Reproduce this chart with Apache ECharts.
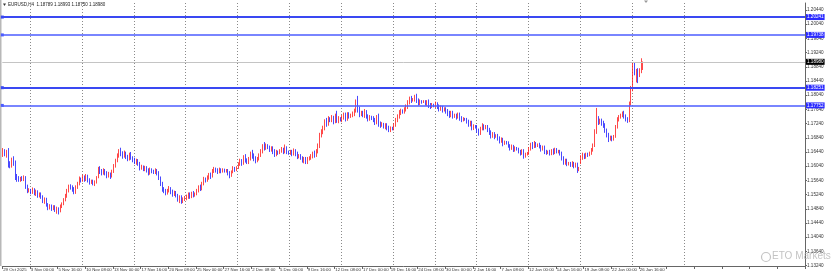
<!DOCTYPE html>
<html><head><meta charset="utf-8">
<script src="https://cdn.jsdelivr.net/npm/echarts@6/dist/echarts.min.js"></script>
<style>html,body{margin:0;padding:0;background:#fff}#c{width:831px;height:279px}</style>
</head><body><div id="c"></div>
<script>
const symbolTitle = 'EURUSD,H4';
const lastOHLC = ['1.18789', '1.18993', '1.18750', '1.18980'];
const firstSession = '2025-10-29 08:00';
const holidays = ['2025-12-25', '2026-01-01'];
const slotCount = 464;
const futureGridWeeks = 1;
const xTickLabels = ['29 Oct 2025','3 Nov 00:00','5 Nov 16:00','10 Nov 08:00','13 Nov 00:00','17 Nov 16:00','20 Nov 08:00','25 Nov 00:00','27 Nov 16:00','2 Dec 08:00','5 Dec 00:00','9 Dec 16:00','12 Dec 08:00','17 Dec 00:00','19 Dec 16:00','24 Dec 08:00','30 Dec 00:00','2 Jan 16:00','7 Jan 08:00','12 Jan 00:00','14 Jan 16:00','19 Jan 08:00','22 Jan 00:00','26 Jan 16:00'];
const yTickValues = [1.20440,1.20040,1.19640,1.19240,1.18840,1.18440,1.18040,1.17640,1.17240,1.16840,1.16440,1.16040,1.15640,1.15240,1.14840,1.14440,1.14040,1.13640,1.13240];
const levelValues = [1.20241, 1.19738, 1.18251, 1.17752];
const bidPrice = 1.18980;

// [open, close, low, high]
const candlesOctNov = [
[1.1640,1.1648,1.1630,1.1655],[1.1648,1.1640,1.1632,1.1652],[1.1640,1.1644,1.1628,1.1650],[1.1644,1.1610,1.1600,1.1655],
[1.1610,1.1605,1.1598,1.1618],[1.1605,1.1622,1.1600,1.1628],[1.1622,1.1615,1.1605,1.1632],[1.1615,1.1575,1.1565,1.1620],[1.1575,1.1570,1.1560,1.1582],[1.1570,1.1566,1.1560,1.1576],
[1.1566,1.1570,1.1560,1.1574],[1.1570,1.1568,1.1562,1.1576],[1.1568,1.1572,1.1562,1.1578],[1.1572,1.1545,1.1540,1.1576],[1.1545,1.1535,1.1528,1.1552],[1.1535,1.1537,1.1530,1.1542],
[1.1537,1.1530,1.1525,1.1540],[1.1530,1.1538,1.1526,1.1544],[1.1538,1.1528,1.1522,1.1542],[1.1528,1.1532,1.1520,1.1538],[1.1532,1.1520,1.1515,1.1536],[1.1520,1.1525,1.1516,1.1530],
[1.1525,1.1518,1.1512,1.1530],[1.1518,1.1505,1.1500,1.1522],[1.1505,1.1510,1.1498,1.1516],[1.1510,1.1495,1.1490,1.1515],[1.1495,1.1488,1.1480,1.1500],[1.1488,1.1492,1.1482,1.1497],
[1.1492,1.1485,1.1478,1.1496],[1.1485,1.1490,1.1480,1.1494],[1.1490,1.1480,1.1475,1.1494],[1.1480,1.1484,1.1470,1.1490],[1.1484,1.1478,1.1468,1.1488],[1.1478,1.1492,1.1474,1.1496],
[1.1492,1.1498,1.1486,1.1502],[1.1498,1.1510,1.1494,1.1514],[1.1510,1.1520,1.1505,1.1526],[1.1520,1.1535,1.1515,1.1540],[1.1535,1.1548,1.1530,1.1552],[1.1548,1.1545,1.1538,1.1553],
[1.1545,1.1540,1.1532,1.1550],[1.1540,1.1530,1.1525,1.1545],[1.1530,1.1545,1.1526,1.1550],[1.1545,1.1555,1.1540,1.1560],[1.1555,1.1568,1.1550,1.1575],[1.1568,1.1565,1.1558,1.1572],
[1.1565,1.1572,1.1560,1.1580],[1.1572,1.1568,1.1560,1.1578],[1.1568,1.1575,1.1562,1.1582],[1.1575,1.1565,1.1558,1.1580],[1.1565,1.1558,1.1552,1.1570],[1.1558,1.1562,1.1554,1.1566],
[1.1562,1.1555,1.1550,1.1566],[1.1555,1.1560,1.1548,1.1564],[1.1560,1.1572,1.1555,1.1576],[1.1572,1.1595,1.1570,1.1602],[1.1595,1.1590,1.1582,1.1604],[1.1590,1.1585,1.1578,1.1596],
[1.1585,1.1592,1.1580,1.1598],[1.1592,1.1585,1.1578,1.1596],[1.1585,1.1578,1.1570,1.1590],[1.1578,1.1582,1.1572,1.1588],[1.1582,1.1575,1.1568,1.1586],[1.1575,1.1590,1.1572,1.1594],
[1.1590,1.1605,1.1585,1.1610],[1.1605,1.1620,1.1600,1.1625],[1.1620,1.1632,1.1615,1.1640],[1.1632,1.1645,1.1628,1.1652],[1.1645,1.1640,1.1632,1.1656],[1.1640,1.1632,1.1625,1.1646],
[1.1632,1.1640,1.1628,1.1648],[1.1640,1.1630,1.1624,1.1645],[1.1630,1.1625,1.1618,1.1636],[1.1625,1.1638,1.1620,1.1642],[1.1638,1.1628,1.1622,1.1644],[1.1628,1.1622,1.1615,1.1632],
[1.1622,1.1615,1.1610,1.1628],[1.1615,1.1620,1.1608,1.1625],[1.1620,1.1612,1.1605,1.1624],[1.1612,1.1598,1.1592,1.1616],[1.1598,1.1602,1.1594,1.1608],[1.1602,1.1596,1.1590,1.1606],
[1.1596,1.1600,1.1590,1.1605],[1.1600,1.1592,1.1586,1.1604],[1.1592,1.1585,1.1578,1.1598],[1.1585,1.1595,1.1580,1.1600],[1.1595,1.1590,1.1584,1.1598],[1.1590,1.1588,1.1582,1.1594],
[1.1588,1.1592,1.1582,1.1598],[1.1592,1.1585,1.1578,1.1596],[1.1585,1.1570,1.1565,1.1590],[1.1570,1.1555,1.1548,1.1575],[1.1555,1.1540,1.1532,1.1560],[1.1540,1.1535,1.1528,1.1545],
[1.1535,1.1528,1.1522,1.1540],[1.1528,1.1535,1.1524,1.1540],[1.1535,1.1540,1.1530,1.1548],[1.1540,1.1532,1.1525,1.1545],[1.1532,1.1526,1.1518,1.1538],[1.1526,1.1530,1.1520,1.1535],
[1.1530,1.1522,1.1516,1.1534],[1.1522,1.1510,1.1504,1.1526],[1.1510,1.1518,1.1500,1.1522],[1.1518,1.1506,1.1498,1.1522],[1.1506,1.1512,1.1500,1.1516],[1.1512,1.1515,1.1506,1.1520],
[1.1515,1.1520,1.1508,1.1524],[1.1520,1.1525,1.1512,1.1530],[1.1525,1.1518,1.1512,1.1530],[1.1518,1.1528,1.1514,1.1532],[1.1528,1.1522,1.1516,1.1534],[1.1522,1.1526,1.1518,1.1530],
[1.1526,1.1535,1.1522,1.1540],[1.1535,1.1545,1.1530,1.1550],[1.1545,1.1540,1.1534,1.1552],[1.1540,1.1555,1.1536,1.1560],[1.1555,1.1568,1.1550,1.1574],[1.1568,1.1565,1.1558,1.1572],
[1.1565,1.1572,1.1560,1.1578],[1.1572,1.1580,1.1566,1.1585],[1.1580,1.1575,1.1568,1.1586],[1.1575,1.1590,1.1572,1.1596],[1.1590,1.1596,1.1585,1.1602],[1.1596,1.1592,1.1586,1.1600],
[1.1592,1.1588,1.1582,1.1598],[1.1588,1.1595,1.1584,1.1600],[1.1595,1.1590,1.1584,1.1598],[1.1590,1.1594,1.1586,1.1598],[1.1594,1.1590,1.1586,1.1597],[1.1590,1.1592,1.1586,1.1596],
[1.1592,1.1585,1.1578,1.1596],[1.1585,1.1578,1.1570,1.1590],[1.1578,1.1588,1.1574,1.1592],[1.1588,1.1598,1.1584,1.1604],[1.1598,1.1595,1.1588,1.1602],[1.1595,1.1600,1.1590,1.1604]
];
const candlesDec = [
[1.1600,1.1610,1.1596,1.1615],[1.1610,1.1618,1.1605,1.1625],[1.1618,1.1612,1.1605,1.1624],[1.1612,1.1628,1.1608,1.1635],[1.1628,1.1620,1.1614,1.1638],[1.1620,1.1615,1.1610,1.1626],
[1.1615,1.1625,1.1610,1.1630],[1.1625,1.1640,1.1620,1.1645],[1.1640,1.1632,1.1625,1.1650],[1.1632,1.1625,1.1618,1.1640],[1.1625,1.1620,1.1612,1.1632],[1.1620,1.1625,1.1615,1.1630],
[1.1625,1.1635,1.1620,1.1640],[1.1635,1.1645,1.1630,1.1652],[1.1645,1.1660,1.1640,1.1666],[1.1660,1.1655,1.1648,1.1672],[1.1655,1.1662,1.1650,1.1668],[1.1662,1.1658,1.1652,1.1666],
[1.1658,1.1650,1.1644,1.1662],[1.1650,1.1655,1.1645,1.1660],[1.1655,1.1645,1.1638,1.1660],[1.1645,1.1638,1.1630,1.1652],[1.1638,1.1645,1.1632,1.1650],[1.1645,1.1642,1.1636,1.1648],
[1.1642,1.1648,1.1638,1.1652],[1.1648,1.1652,1.1642,1.1658],[1.1652,1.1645,1.1638,1.1656],[1.1645,1.1655,1.1640,1.1665],[1.1655,1.1645,1.1638,1.1660],[1.1645,1.1642,1.1636,1.1648],
[1.1642,1.1645,1.1636,1.1650],[1.1645,1.1638,1.1632,1.1650],[1.1638,1.1648,1.1634,1.1654],[1.1648,1.1640,1.1632,1.1652],[1.1640,1.1630,1.1624,1.1645],[1.1630,1.1634,1.1626,1.1638],
[1.1634,1.1628,1.1622,1.1638],[1.1628,1.1620,1.1614,1.1632],[1.1620,1.1625,1.1612,1.1630],[1.1625,1.1615,1.1610,1.1630],[1.1615,1.1625,1.1610,1.1630],[1.1625,1.1628,1.1620,1.1632],
[1.1628,1.1632,1.1622,1.1638],[1.1632,1.1640,1.1626,1.1645],[1.1640,1.1635,1.1628,1.1648],[1.1635,1.1645,1.1630,1.1652],[1.1645,1.1660,1.1640,1.1668],[1.1660,1.1690,1.1655,1.1698],
[1.1690,1.1700,1.1685,1.1708],[1.1700,1.1712,1.1694,1.1718],[1.1712,1.1730,1.1705,1.1736],[1.1730,1.1722,1.1715,1.1740],[1.1722,1.1738,1.1718,1.1745],[1.1738,1.1735,1.1728,1.1742],
[1.1735,1.1740,1.1728,1.1748],[1.1740,1.1730,1.1722,1.1746],[1.1730,1.1745,1.1725,1.1752],[1.1745,1.1732,1.1726,1.1760],[1.1732,1.1738,1.1725,1.1745],[1.1738,1.1735,1.1730,1.1742],
[1.1735,1.1742,1.1728,1.1748],[1.1742,1.1748,1.1735,1.1755],[1.1748,1.1738,1.1730,1.1755],[1.1738,1.1750,1.1732,1.1756],[1.1750,1.1745,1.1738,1.1756],[1.1745,1.1748,1.1740,1.1752],
[1.1748,1.1752,1.1742,1.1758],[1.1752,1.1760,1.1745,1.1766],[1.1760,1.1785,1.1755,1.1792],[1.1785,1.1765,1.1755,1.1802],[1.1765,1.1750,1.1742,1.1772],[1.1750,1.1755,1.1745,1.1760],
[1.1755,1.1748,1.1742,1.1760],[1.1748,1.1758,1.1740,1.1765],[1.1758,1.1745,1.1738,1.1762],[1.1745,1.1738,1.1730,1.1750],[1.1738,1.1742,1.1732,1.1748],[1.1742,1.1740,1.1734,1.1746],
[1.1740,1.1735,1.1728,1.1745],[1.1735,1.1728,1.1720,1.1740],[1.1728,1.1740,1.1722,1.1748],[1.1740,1.1725,1.1715,1.1752],[1.1725,1.1720,1.1712,1.1730],[1.1720,1.1722,1.1715,1.1728],
[1.1722,1.1715,1.1710,1.1726],[1.1715,1.1720,1.1708,1.1725],[1.1720,1.1712,1.1705,1.1725],[1.1712,1.1705,1.1700,1.1718],[1.1705,1.1712,1.1700,1.1716],[1.1712,1.1710,1.1705,1.1715],
[1.1710,1.1720,1.1705,1.1725],[1.1720,1.1735,1.1715,1.1740],[1.1735,1.1745,1.1728,1.1750],[1.1745,1.1755,1.1738,1.1762],[1.1755,1.1760,1.1748,1.1766],[1.1760,1.1758,1.1752,1.1764],
[1.1758,1.1765,1.1752,1.1770],[1.1765,1.1772,1.1758,1.1778],[1.1772,1.1785,1.1765,1.1790],[1.1785,1.1795,1.1778,1.1800],[1.1795,1.1790,1.1782,1.1802],[1.1790,1.1792,1.1786,1.1796],
[1.1792,1.1798,1.1786,1.1805],[1.1798,1.1790,1.1782,1.1808],[1.1790,1.1782,1.1775,1.1795],[1.1782,1.1788,1.1776,1.1792],[1.1788,1.1785,1.1780,1.1790],[1.1785,1.1786,1.1782,1.1790],
[1.1786,1.1780,1.1775,1.1790],[1.1780,1.1785,1.1774,1.1790],[1.1785,1.1775,1.1768,1.1792],[1.1775,1.1772,1.1765,1.1782],[1.1772,1.1778,1.1768,1.1782],[1.1778,1.1775,1.1770,1.1780],
[1.1775,1.1780,1.1768,1.1786],[1.1780,1.1772,1.1765,1.1784],[1.1772,1.1765,1.1758,1.1778],[1.1765,1.1770,1.1760,1.1775],[1.1770,1.1762,1.1755,1.1774],[1.1762,1.1765,1.1758,1.1770],
[1.1765,1.1760,1.1752,1.1770],[1.1760,1.1752,1.1745,1.1765],[1.1752,1.1748,1.1740,1.1760],[1.1748,1.1755,1.1742,1.1760],[1.1755,1.1745,1.1738,1.1760],[1.1745,1.1748,1.1740,1.1752],
[1.1748,1.1742,1.1735,1.1752],[1.1742,1.1750,1.1738,1.1755],[1.1750,1.1740,1.1732,1.1755],[1.1740,1.1735,1.1728,1.1745],[1.1735,1.1738,1.1730,1.1742],[1.1738,1.1736,1.1732,1.1740]
];
const candlesJan = [
[1.1736,1.1730,1.1724,1.1740],[1.1730,1.1722,1.1715,1.1735],[1.1722,1.1728,1.1716,1.1732],[1.1728,1.1712,1.1705,1.1732],[1.1712,1.1718,1.1706,1.1722],[1.1718,1.1716,1.1710,1.1720],
[1.1716,1.1705,1.1698,1.1720],[1.1705,1.1698,1.1690,1.1710],[1.1698,1.1710,1.1692,1.1715],[1.1710,1.1718,1.1705,1.1725],[1.1718,1.1712,1.1705,1.1722],[1.1712,1.1715,1.1708,1.1720],
[1.1715,1.1708,1.1700,1.1720],[1.1708,1.1700,1.1692,1.1712],[1.1700,1.1690,1.1682,1.1705],[1.1690,1.1696,1.1684,1.1700],[1.1696,1.1688,1.1680,1.1700],[1.1688,1.1690,1.1684,1.1694],
[1.1690,1.1682,1.1676,1.1695],[1.1682,1.1675,1.1668,1.1688],[1.1675,1.1680,1.1670,1.1685],[1.1680,1.1668,1.1660,1.1684],[1.1668,1.1672,1.1664,1.1676],[1.1672,1.1670,1.1665,1.1675],
[1.1670,1.1662,1.1656,1.1674],[1.1662,1.1655,1.1648,1.1666],[1.1655,1.1660,1.1650,1.1665],[1.1660,1.1650,1.1644,1.1664],[1.1650,1.1655,1.1645,1.1660],[1.1655,1.1652,1.1648,1.1658],
[1.1652,1.1645,1.1640,1.1656],[1.1645,1.1640,1.1634,1.1650],[1.1640,1.1648,1.1636,1.1652],[1.1648,1.1632,1.1625,1.1652],[1.1632,1.1638,1.1628,1.1642],[1.1638,1.1640,1.1634,1.1644],
[1.1640,1.1652,1.1636,1.1658],[1.1652,1.1665,1.1648,1.1670],[1.1665,1.1660,1.1652,1.1672],[1.1660,1.1668,1.1655,1.1675],[1.1668,1.1662,1.1656,1.1672],[1.1662,1.1665,1.1658,1.1668],
[1.1665,1.1660,1.1654,1.1670],[1.1660,1.1652,1.1645,1.1664],[1.1652,1.1658,1.1648,1.1662],[1.1658,1.1645,1.1638,1.1662],[1.1645,1.1642,1.1636,1.1650],[1.1642,1.1645,1.1638,1.1648],
[1.1645,1.1640,1.1634,1.1650],[1.1640,1.1648,1.1635,1.1652],[1.1648,1.1642,1.1636,1.1654],[1.1642,1.1650,1.1638,1.1656],[1.1650,1.1645,1.1640,1.1655],[1.1645,1.1646,1.1640,1.1650],
[1.1646,1.1640,1.1634,1.1650],[1.1640,1.1628,1.1620,1.1645],[1.1628,1.1615,1.1608,1.1632],[1.1615,1.1620,1.1608,1.1625],[1.1620,1.1610,1.1604,1.1625],[1.1610,1.1612,1.1606,1.1616],
[1.1612,1.1608,1.1602,1.1616],[1.1608,1.1612,1.1602,1.1618],[1.1612,1.1605,1.1598,1.1616],[1.1605,1.1610,1.1600,1.1614],[1.1610,1.1595,1.1585,1.1614],[1.1595,1.1598,1.1590,1.1602],
[1.1615,1.1628,1.1610,1.1635],[1.1628,1.1635,1.1622,1.1642],[1.1635,1.1630,1.1624,1.1640],[1.1630,1.1638,1.1625,1.1642],[1.1638,1.1635,1.1630,1.1642],[1.1635,1.1640,1.1632,1.1645],
[1.1640,1.1650,1.1636,1.1655],[1.1650,1.1662,1.1645,1.1668],[1.1662,1.1700,1.1658,1.1708],[1.1700,1.1735,1.1695,1.1768],[1.1735,1.1728,1.1720,1.1745],[1.1728,1.1732,1.1722,1.1738],
[1.1732,1.1725,1.1718,1.1738],[1.1725,1.1720,1.1712,1.1732],[1.1720,1.1705,1.1698,1.1725],[1.1705,1.1692,1.1685,1.1710],[1.1692,1.1680,1.1672,1.1698],[1.1680,1.1685,1.1676,1.1690],
[1.1685,1.1680,1.1674,1.1690],[1.1680,1.1688,1.1676,1.1692],[1.1688,1.1715,1.1684,1.1720],[1.1715,1.1735,1.1710,1.1742],[1.1735,1.1742,1.1730,1.1748],[1.1742,1.1748,1.1738,1.1752],
[1.1748,1.1752,1.1742,1.1758],[1.1752,1.1745,1.1738,1.1760],[1.1745,1.1738,1.1730,1.1750],[1.1738,1.1732,1.1726,1.1742],[1.1732,1.1780,1.1728,1.1786],[1.1780,1.1822,1.1775,1.1830],
[1.1822,1.1885,1.1815,1.1895],[1.1885,1.1868,1.1860,1.1896],[1.1868,1.1872,1.1840,1.1878],[1.1872,1.1862,1.1838,1.1880],[1.1862,1.1872,1.1855,1.1880],[1.1872,1.1879,1.1866,1.1908],
[1.1879,1.1898,1.1875,1.1899]
];

const FONT = 'Liberation Sans';
const candles = candlesOctNov.concat(candlesDec, candlesJan);

function buildSlots(n) {
  const parts = firstSession.split(' ');
  let ts = Date.parse(parts[0] + 'T' + parts[1] + ':00Z');
  const out = [];
  while (out.length < n) {
    const dt = new Date(ts);
    const dow = dt.getUTCDay();
    const ds = dt.toISOString().slice(0, 10);
    if (dow !== 0 && dow !== 6 && holidays.indexOf(ds) < 0) {
      out.push({ name: ds + ' ' + String(dt.getUTCHours()).padStart(2, '0') + ':00', weekStart: dow === 1 && dt.getUTCHours() === 0 });
    }
    ts += 4 * 3600 * 1000;
  }
  return out;
}
const slots = buildSlots(slotCount);
const categories = slots.map(s => s.name);
const weekStarts = new Set();
let futureWeeks = 0;
slots.forEach((s, i) => {
  if (!s.weekStart) return;
  if (i >= candles.length) { if (futureWeeks >= futureGridWeeks) return; futureWeeks++; }
  weekStarts.add(i);
});

const chart = echarts.init(document.getElementById('c'), null, { renderer: 'canvas' });
const lvlLabel = {
  show: true, position: 'end', distance: 1, formatter: p => Number(p.value).toFixed(5),
  color: '#ffffff', fontSize: 4.6, fontFamily: FONT, padding: [1, 1, 0, 1]
};
const option = {
  animation: false,
  backgroundColor: '#ffffff',
  grid: { left: 2.3, right: 26, top: 3, bottom: 13 },
  xAxis: {
    type: 'category',
    data: categories,
    boundaryGap: true,
    axisLine: { show: true, lineStyle: { color: '#666', width: 1 } },
    axisTick: { show: true, interval: 15, length: 3, lineStyle: { color: '#666' } },
    axisLabel: {
      interval: 15, align: 'left', margin: 2, fontSize: 4.3, color: '#333', fontFamily: FONT,
      formatter: (v, i) => { const k = i / 16; return (i % 16 === 0 && k < xTickLabels.length) ? xTickLabels[k] : ''; }
    },
    splitLine: { show: true, interval: (i) => weekStarts.has(i), lineStyle: { color: '#8a8a8a', type: [1, 2], width: 1 } }
  },
  yAxis: {
    type: 'value',
    position: 'right',
    min: 1.13228, max: 1.20637,
    scale: true,
    axisLine: { show: true, lineStyle: { color: '#666', width: 1 } },
    axisTick: { show: true, length: 2, customValues: yTickValues, lineStyle: { color: '#666' } },
    axisLabel: { customValues: yTickValues, fontSize: 4.6, color: '#333', margin: 2, fontFamily: FONT, formatter: v => v.toFixed(5) },
    splitLine: { show: false }
  },
  series: [
    {
      type: 'candlestick',
      data: candles,
      barWidth: 1,
      itemStyle: { color: '#ff1a1a', color0: '#1a1aff', borderColor: '#ff1a1a', borderColor0: '#1a1aff', borderWidth: 0.8 },
      markLine: {
        silent: true, animation: false, precision: 5,
        symbol: ['rect', 'none'], symbolSize: 3,
        label: Object.assign({ backgroundColor: '#2b2bff' }, lvlLabel),
        lineStyle: { color: '#3a48f2', type: 'solid', width: 1.5 },
        itemStyle: { color: '#3a48f2' },
        data: levelValues.map((v, i) => ({ yAxis: v, lineStyle: { color: i % 2 === 0 ? '#3a48f2' : '#4c5cff', width: i % 2 === 0 ? 2 : 1.5, type: 'solid' } }))
      },
      z: 3
    },
    {
      type: 'line', data: [], z: 2,
      markLine: {
        silent: true, animation: false, precision: 5, symbol: ['none', 'none'],
        lineStyle: { color: '#c4c4c4', width: 1, type: 'solid' },
        label: Object.assign({ backgroundColor: '#000000' }, lvlLabel),
        data: [{ yAxis: bidPrice }]
      }
    }
  ],
  graphic: [
    { type: 'rect', shape: { x: 0, y: 0, width: 1.5, height: 266 }, style: { fill: '#b8b8b8' }, silent: true },
    { type: 'polygon', shape: { points: [[3, 3.5], [6, 3.5], [4.5, 6]] }, style: { fill: '#333' }, silent: true },
    { type: 'text', left: 8, top: 2.5, style: { text: symbolTitle + '  ' + lastOHLC.join(' '), fontSize: 4.5, fill: '#222', fontFamily: FONT }, silent: true },
    { type: 'polygon', shape: { points: [[644, 0.5], [648, 0.5], [646, 3]] }, style: { fill: '#999' }, silent: true },
    { type: 'circle', shape: { cx: 766, cy: 257, r: 4.5 }, style: { fill: 'none', stroke: 'rgba(170,170,170,0.7)', lineWidth: 1.2 }, silent: true, z: 10 },
    { type: 'text', left: 772, top: 251, style: { text: 'ETO Markets', fontSize: 10, fill: 'rgba(175,175,175,0.75)', fontFamily: FONT }, silent: true, z: 10 }
  ]
};
chart.setOption(option);
</script>
</body></html>
